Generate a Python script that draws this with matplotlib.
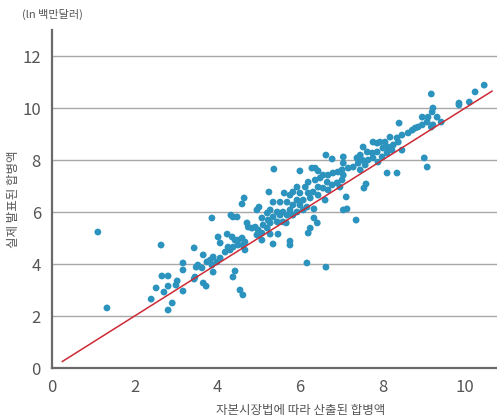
import matplotlib
matplotlib.use("Agg")
import matplotlib.pyplot as plt

plt.rcParams['font.family'] = ['Noto Sans CJK KR', 'DejaVu Sans']

# x: 자본시장법에 따라 산출된 합병액, y: 실제 발표된 합병액 (ln 백만달러)
calc_value = [
    1.11, 1.33, 2.64, 2.66, 2.81, 2.52, 2.40, 2.71, 2.81, 2.91, 2.81, 3.03, 3.00, 3.17,
    4.65, 4.60, 5.01, 4.96, 4.33, 4.38, 4.48, 3.87, 4.72, 4.75, 4.84, 4.92, 4.99, 4.96,
    4.24, 4.36, 4.43, 4.50, 4.60, 4.67, 4.02, 4.07, 4.26, 4.38, 4.50, 4.62, 4.67, 4.19,
    4.31, 3.44, 3.66, 4.07, 3.90, 3.83, 3.99, 3.75, 3.87, 3.53, 3.49, 3.63, 3.90, 3.17,
    3.17, 4.43, 4.38, 3.46, 3.44, 3.66, 3.73, 4.55, 4.62,
    6.63, 6.78, 5.37, 6.00, 6.29, 6.37, 6.44, 6.56, 6.68, 6.80, 6.92, 6.49, 6.37, 6.20,
    6.66, 6.78, 6.90, 6.44, 6.56, 6.68, 6.13, 5.93, 6.00, 5.83, 5.62, 5.76, 6.20, 6.32,
    6.44, 6.61, 6.25, 6.08, 5.93, 5.25, 5.35, 5.52, 5.69, 5.83, 6.00, 6.17, 6.08, 5.93,
    5.76, 5.59, 5.45, 5.28, 5.21, 5.23, 5.35, 5.52, 5.69, 5.83, 5.08, 5.11, 5.28, 5.45,
    5.59, 5.67, 5.21, 5.08, 5.08, 5.28, 5.47, 6.34, 6.34, 6.42, 6.25, 6.20, 5.76, 5.76,
    5.35, 6.17, 6.63, 6.97, 7.05, 7.14, 7.36,
    8.96, 9.10, 9.08, 8.96, 8.86, 8.79, 8.72, 8.62, 8.40, 8.47, 8.35, 8.38, 8.18, 8.06,
    7.94, 7.87, 7.77, 8.47, 8.26, 8.13, 8.01, 8.23, 8.11, 7.99, 7.87, 7.75, 7.63, 7.53,
    7.46, 7.38, 7.51, 7.65, 7.77, 7.89, 7.58, 7.41, 7.29, 7.17, 7.05, 7.05, 7.02, 7.05,
    7.02, 7.46, 9.01, 9.08, 8.11, 8.35, 7.60, 7.55, 7.12,
    10.46, 10.24, 10.10, 9.85, 9.85, 9.18, 9.22, 9.20, 9.32, 9.42, 9.22, 9.18,
]
actual_value = [
    5.23, 2.31, 4.73, 3.54, 3.54, 3.08, 2.65, 2.92, 3.15, 2.50, 2.23, 3.35, 3.19, 2.96,
    6.54, 6.31, 6.19, 6.08, 5.88, 5.81, 5.81, 5.77, 5.58, 5.42, 5.38, 5.42, 5.31, 5.12,
    5.15, 5.04, 4.92, 4.92, 5.00, 4.85, 5.04, 4.81, 4.65, 4.65, 4.73, 4.73, 4.54, 4.46,
    4.54, 4.62, 4.35, 4.23, 4.27, 4.15, 4.08, 4.08, 3.96, 3.96, 3.88, 3.85, 3.69, 4.04,
    3.77, 3.73, 3.50, 3.50, 3.42, 3.27, 3.15, 3.00, 2.81,
    8.19, 8.04, 7.65, 7.58, 7.69, 7.69, 7.58, 7.42, 7.42, 7.50, 7.54, 7.31, 7.23, 7.15,
    7.15, 7.04, 7.12, 6.96, 6.92, 6.85, 6.96, 6.96, 6.73, 6.77, 6.73, 6.65, 6.73, 6.77,
    6.65, 6.46, 6.54, 6.46, 6.46, 6.77, 6.38, 6.38, 6.38, 6.27, 6.27, 6.19, 6.08, 6.00,
    6.08, 6.00, 6.00, 6.08, 5.96, 5.69, 5.81, 5.88, 5.88, 5.88, 5.77, 5.50, 5.58, 5.62,
    5.62, 5.58, 5.38, 5.19, 4.92, 5.15, 5.15, 6.12, 5.77, 5.58, 5.38, 5.19, 4.88, 4.73,
    4.77, 4.04, 3.88, 6.96, 6.08, 6.12, 5.69,
    9.65, 9.65, 9.46, 9.35, 9.27, 9.23, 9.15, 9.04, 9.42, 8.96, 8.85, 8.69, 8.88, 8.69,
    8.69, 8.65, 8.69, 8.38, 8.58, 8.50, 8.46, 8.38, 8.27, 8.12, 8.31, 8.27, 8.31, 8.50,
    8.19, 8.08, 8.00, 8.00, 8.08, 7.92, 7.81, 7.88, 7.73, 7.69, 8.12, 7.88, 7.62, 7.42,
    7.23, 7.62, 8.08, 7.73, 7.50, 7.50, 7.08, 6.92, 6.58,
    10.88, 10.62, 10.23, 10.19, 10.12, 10.54, 10.00, 9.85, 9.65, 9.46, 9.35, 9.27,
]
fit_x = [0.25, 10.65]
fit_y = [0.25, 10.65]

x_ticks = [0, 2, 4, 6, 8, 10]
y_ticks = [0, 2, 4, 6, 8, 10, 12]

fig = plt.figure(figsize=(4.97, 4.17), dpi=100)
ax = fig.add_axes([0.1046, 0.1175, 0.8954, 0.8105])

for y in y_ticks[1:]:
    ax.axhline(y, color='#a8a8a8', lw=1.0, zorder=1)

ax.scatter(calc_value, actual_value, s=24, color='#2b93bd', edgecolors='none', zorder=3)
ax.plot(fit_x, fit_y, color='#cc2a36', lw=1.1, zorder=4)

ax.set_xlim(0, 10.77)
ax.set_ylim(0, 13)
ax.set_xticks(x_ticks)
ax.set_yticks(y_ticks)
ax.tick_params(length=0, labelsize=12, colors='#555555', pad=8)
for s in ['top', 'right']:
    ax.spines[s].set_visible(False)
for s in ['left', 'bottom']:
    ax.spines[s].set_color('#6a6a6a')
    ax.spines[s].set_linewidth(1.6)

ax.set_ylabel('실제 발표된 합병액', fontsize=9, color='#555555')
ax.yaxis.set_label_coords(-0.072, 0.5)
fig.text(0.605, 0.008, '자본시장법에 따라 산출된 합병액', fontsize=9, color='#555555', ha='center')
fig.text(0.044, 0.965, '(ln 백만달러)', fontsize=8, color='#555555', va='center')

fig.savefig('out.png', dpi=100)
